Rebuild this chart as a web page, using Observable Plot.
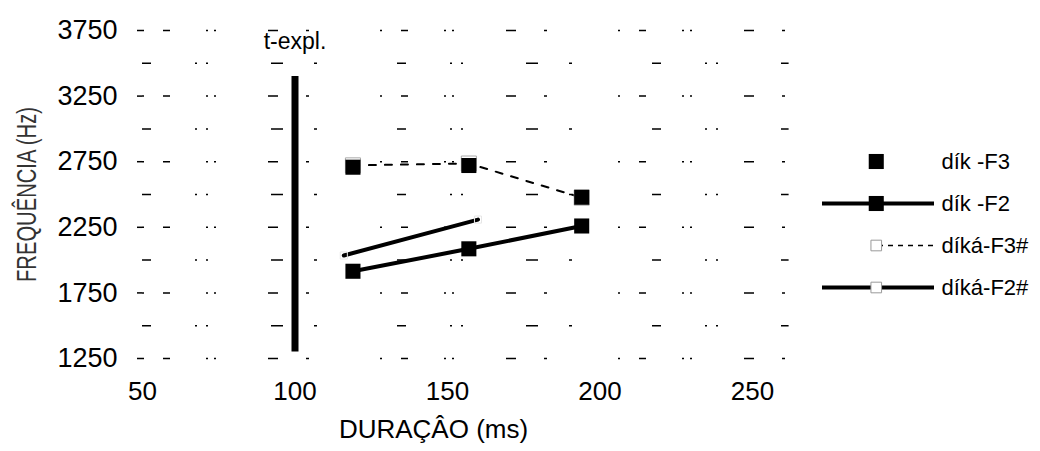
<!DOCTYPE html>
<html><head><meta charset="utf-8">
<script src="https://cdn.jsdelivr.net/npm/d3@7"></script>
<script src="https://cdn.jsdelivr.net/npm/@observablehq/plot@0.6"></script>
<style>
body{margin:0;background:#fff;}
#wrap{position:relative;width:1040px;height:451px;font-family:"Liberation Sans",Arial,sans-serif;}
#legend{position:absolute;left:780px;top:112px;}
</style></head><body><div id="wrap"></div>
<script>
// ---- data ----
const xTicks = [50, 100, 150, 200, 250];
const yTicks = [1250, 1750, 2250, 2750, 3250, 3750];
const gridValues = [1250, 1500, 1750, 2000, 2250, 2500, 2750, 3000, 3250, 3500, 3750];

const dikDur = [119, 157, 194];
const dikF3 = [2708, 2721, 2479];
const dikF2 = [1915, 2086, 2260];

const dikaF3Dur = [119, 157, 194];
const dikaF3 = [2722, 2736, 2476];
const dikaF2Dur = [116, 160];
const dikaF2 = [2035, 2309];

const tExpl = [{x: 100, y1: 1300, y2: 3400}];
const annotations = [{x: 100, y: 3665, text: "t-expl."}];

const seriesNames = ["dík -F3", "dík -F2", "díká-F3#", "díká-F2#"];
const xLabel = "DURAÇÂO (ms)";
const yLabel = "FREQUÊNCIA (Hz)";

// ---- tables ----
const toRows = (xs, ys) => xs.map((x, i) => ({x, y: ys[i]}));
const rF3 = toRows(dikDur, dikF3);
const rF2 = toRows(dikDur, dikF2);
const rF3h = toRows(dikaF3Dur, dikaF3);
const rF2h = toRows(dikaF2Dur, dikaF2);
const gridA = gridValues.filter((d, i) => i % 2 === 0);
const gridB = gridValues.filter((d, i) => i % 2 === 1);

const FONT = '"Liberation Sans", Arial, sans-serif';
const SQ = 8.5;
const fmt = d => String(d);

const main = Plot.plot({
  width: 1040, height: 451,
  marginLeft: 142, marginRight: 288, marginTop: 30, marginBottom: 93,
  style: {fontFamily: FONT, background: "transparent", color: "#000", overflow: "visible"},
  x: {domain: [50, 250], label: null},
  y: {domain: [1250, 3750], label: null},
  marks: [
    Plot.ruleY(gridA, {x1: 50, x2: 262, stroke: "#000", strokeWidth: 1.5, strokeDasharray: "2,19,7,36,2,6,2,52,10,28,3,71"}),
    Plot.ruleY(gridB, {x1: 50, x2: 262, stroke: "#000", strokeWidth: 1.5, strokeDasharray: "9,44,2,9,2,63,12,31,3,80"}),
    Plot.axisX({ticks: xTicks, tickFormat: fmt, tickSize: 0, tickPadding: 23, fontSize: 26, label: null}),
    Plot.axisY({ticks: yTicks, tickFormat: fmt, tickSize: 5, tickPadding: 20, fontSize: 27, label: null, strokeWidth: 1.5}),
    Plot.ruleX(tExpl, {x: "x", y1: "y1", y2: "y2", stroke: "#000", strokeWidth: 7}),
    Plot.text(annotations, {x: "x", y: "y", text: "text", fontSize: 23, fill: "#000"}),
    Plot.text([xLabel], {frameAnchor: "bottom", dx: -14, dy: 79, fontSize: 26, fill: "#000"}),
    Plot.text([yLabel], {frameAnchor: "left", textAnchor: "middle", dx: -115, rotate: -90, fontSize: 28, fill: "#333"}),
    // díká-F3# (dashed thin, open squares)
    Plot.line(rF3h, {x: "x", y: "y", stroke: "#000", strokeWidth: 2, strokeDasharray: "7,9"}),
    Plot.dot(rF3h, {x: "x", y: "y", symbol: "square", r: SQ, fill: "#fff", stroke: "#aaa", strokeWidth: 1}),
    // díká-F2# (solid thick, open squares)
    Plot.line(rF2h, {x: "x", y: "y", stroke: "#000", strokeWidth: 4}),
    Plot.dot(rF2h, {x: "x", y: "y", symbol: "square", r: 4, fill: "none", stroke: "#e6e6e6", strokeWidth: 1}),
    // dík -F2 (solid thick, filled squares)
    Plot.line(rF2, {x: "x", y: "y", stroke: "#000", strokeWidth: 4}),
    Plot.dot(rF2, {x: "x", y: "y", symbol: "square", r: SQ, fill: "#000"}),
    // dík -F3 (filled squares)
    Plot.dot(rF3, {x: "x", y: "y", symbol: "square", r: SQ, fill: "#000"})
  ]
});

const legend = Plot.plot({
  width: 260, height: 224, margin: 0,
  style: {fontFamily: FONT, background: "transparent", color: "#000", overflow: "visible"},
  x: {domain: [0, 1], range: [42, 154], axis: null},
  y: {type: "point", domain: seriesNames, range: [28, 196], axis: null},
  marks: [
    Plot.ruleY([seriesNames[1], seriesNames[3]], {y: d => d, x1: 0, x2: 1, stroke: "#000", strokeWidth: 4}),
    Plot.ruleY([seriesNames[2]], {y: d => d, x1: 0.5, x2: 1, stroke: "#000", strokeWidth: 1.5, strokeDasharray: "5,5"}),
    Plot.dot([seriesNames[0], seriesNames[1]], {y: d => d, x: 0.48, symbol: "square", r: SQ, fill: "#000"}),
    Plot.dot([seriesNames[2], seriesNames[3]], {y: d => d, x: 0.48, symbol: "square", r: 6, fill: "#fff", stroke: "#999", strokeWidth: 1}),
    Plot.text(seriesNames, {y: d => d, x: 1, dx: 7, text: d => d, textAnchor: "start", fontSize: 22, fill: "#000"})
  ]
});
legend.id = "legend";

const wrap = document.getElementById("wrap");
wrap.appendChild(main);
wrap.appendChild(legend);

// condense the y label like the original
Array.from(main.querySelectorAll("text")).filter(t => t.textContent.includes("FREQU")).forEach(t => {
  t.setAttribute("textLength", 175);
  t.setAttribute("lengthAdjust", "spacingAndGlyphs");
});
</script></body></html>
